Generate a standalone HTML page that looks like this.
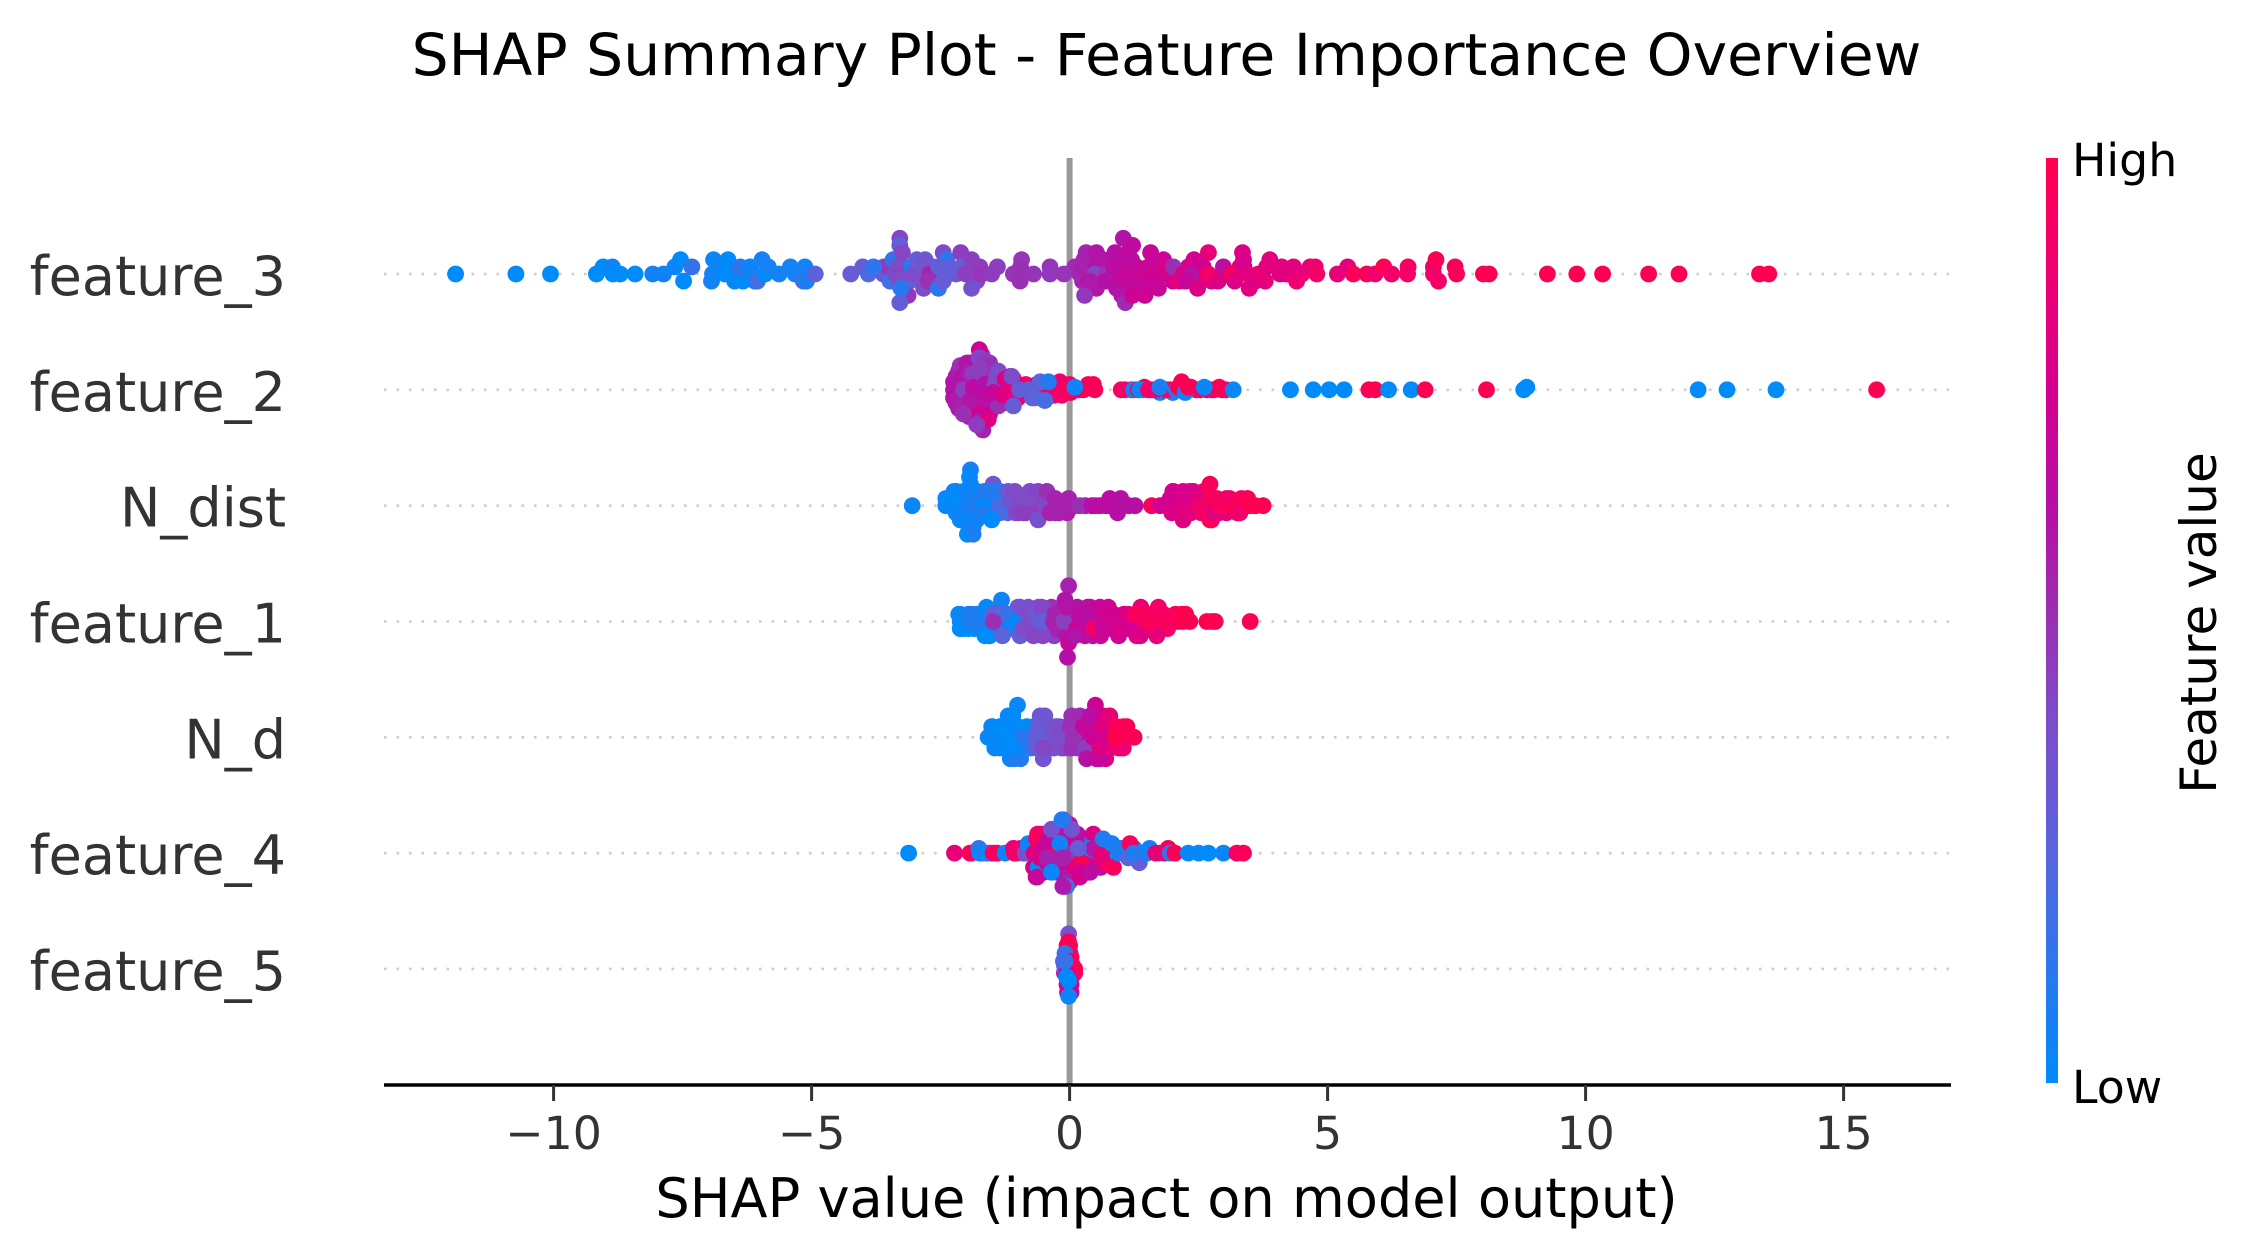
<!DOCTYPE html>
<html lang="en">
<head>
<meta charset="utf-8">
<title>SHAP Summary Plot - Feature Importance Overview</title>
<style>
html,body{margin:0;padding:0;background:#fff;}
svg{display:block;}
text{font-family:"DejaVu Sans","Liberation Sans",sans-serif;}
</style>
</head>
<body>
<svg id="chart" xmlns="http://www.w3.org/2000/svg" width="2255" height="1258" viewBox="0 0 2255 1258">
  <defs>
    <linearGradient id="cbar" x1="0" y1="1" x2="0" y2="0">
      <stop offset="0" stop-color="#008bfb"/>
      <stop offset="0.12" stop-color="#2a78ee"/>
      <stop offset="0.25" stop-color="#5a64dc"/>
      <stop offset="0.4" stop-color="#7f4bc8"/>
      <stop offset="0.5" stop-color="#9a30b4"/>
      <stop offset="0.62" stop-color="#b60fa6"/>
      <stop offset="0.75" stop-color="#d4008f"/>
      <stop offset="0.88" stop-color="#ee0070"/>
      <stop offset="1" stop-color="#ff0051"/>
    </linearGradient>
  </defs>
  <rect x="0" y="0" width="2255" height="1258" fill="#ffffff"/>
  <text x="1166.5" y="75" text-anchor="middle" font-size="58.35" fill="#000">SHAP Summary Plot - Feature Importance Overview</text>
  <g id="grid"></g>
  <line x1="1069.6" y1="158" x2="1069.6" y2="1085" stroke="#999999" stroke-width="6"/>
  <g id="points"></g>
  <line x1="384" y1="1085" x2="1951" y2="1085" stroke="#000" stroke-width="3.6"/>
  <g id="xaxis"></g>
  <g id="yaxis"></g>
  <text x="1166.5" y="1217" text-anchor="middle" font-size="54.17" fill="#000">SHAP value (impact on model output)</text>
  <rect x="2046" y="158" width="12" height="925" fill="url(#cbar)"/>
  <text x="2072" y="176" font-size="45.8" fill="#000">High</text>
  <text x="2072" y="1103" font-size="45.8" fill="#000">Low</text>
  <text transform="translate(2216,623) rotate(-90)" text-anchor="middle" font-size="50" fill="#000">Feature value</text>
</svg>
<script>
const categories = ['feature_3','feature_2','N_dist','feature_1','N_d','feature_4','feature_5'];
const xTickValues = [-10,-5,0,5,10,15];
const xTickLabels = ['\u221210','\u22125','0','5','10','15'];
const maxStack = [5,15,5,5,3,8,10];

const feature3Shap = [
-6.8,-6.6,-6.3,-6.1,-3.6,-3.45,-3.2,-3.1,-2.9,-2.65,
-2.6,-2.5,-2.2,-1.95,-1.8,0.1,0.25,0.4,0.6,0.65,
0.8,0.95,1.1,1.2,1.3,1.35,1.5,1.65,1.7,1.9,
2.0,2.3,2.55,2.75,3.0,3.3,4.2,4.5,
-11.9,-10.73,-10.06,-9.17,-9.04,-8.86,-8.85,-8.71,-8.42,-8.08,
-7.87,-7.65,-7.54,-7.48,-7.32,-6.94,-6.92,-6.9,-6.62,-6.68,
-6.49,-6.33,-6.38,-6.19,-6.13,-6.05,-5.96,-5.9,-5.84,-5.63,
-5.41,-5.32,-5.13,-5.16,-5.1,-4.93,
-4.24,-4.01,-3.9,-3.61,-3.53,-3.48,-3.42,-3.38,-3.29,-3.29,
-3.24,-3.32,-3.29,-3.3,-3.13,-3.29,-3.06,-3.0,-2.96,-2.8,
-2.83,-2.83,-2.71,-2.74,-2.54,-2.45,-2.38,-2.54,-2.35,-2.45,
-2.32,-2.11,-2.09,-1.9,-1.9,-2.01,-1.87,-1.74,-1.7,-1.51,
-1.4,-1.09,-0.93,-0.95,-0.96,-0.7,-0.38,-0.38,-0.11,0.2,
0.32,0.28,0.23,0.36,0.52,0.56,0.52,0.29,0.52,0.49,
0.72,0.88,0.91,1.04,1.22,1.14,1.07,0.98,0.91,1.01,
1.08,1.22,1.23,1.27,1.46,1.57,1.53,1.56,1.72,1.82,
1.78,1.85,2.01,2.13,2.2,2.41,2.37,2.48,2.59,2.69,
2.69,2.88,2.98,3.14,3.35,3.37,3.38,3.48,0.4,0.7,
1.0,0.85,1.15,1.15,1.4,1.6,2.25,3.2,3.45,3.6,
3.66,3.79,3.88,3.82,4.08,4.11,4.34,4.4,4.66,4.76,
4.79,5.19,5.39,5.5,5.76,5.92,6.09,6.24,6.56,6.55,
7.05,7.1,7.05,7.15,7.47,7.5,8.02,8.13,9.26,9.83,
10.33,11.22,11.81,13.37,13.55,-3.8,-3.27];
const feature3Stack = [
1,0,0,-1,1,-1,1,-1,0,1,
-1,0,0,1,-1,1,-1,0,-1,2,
1,-2,0,2,1,-1,0,-1,1,0,
-1,1,0,-1,0,1,0,0,
0,0,0,0,1,1,0,0,0,0,
0,1,2,-1,1,-1,0,2,2,0,
-1,-1,1,1,0,-1,2,0,1,0,
1,0,1,-1,-1,0,
0,1,0,0,1,-1,2,0,5,4,
3,1,0,-1,-3,-4,1,0,2,2,
1,-2,0,-1,-2,3,2,1,0,-1,
1,3,1,2,-2,0,1,1,0,0,
1,0,2,1,-1,0,1,0,0,0,
3,2,1,-1,3,2,-2,-3,1,0,
0,3,2,5,4,3,1,-1,-2,-3,
-4,-3,1,0,-3,3,1,-1,-2,2,
0,1,1,-1,0,2,0,-2,1,3,
0,-1,1,0,3,2,1,-2,-1,-1,
0,1,-1,2,0,0,-1,-1,0,-1,
0,-1,2,1,0,1,1,-1,1,1,
0,0,1,0,0,0,1,0,1,0,
1,2,0,-1,1,0,0,0,0,0,
0,0,0,0,0,1,-2];
const feature3Value = [
0,.02,0,.05,.32,.3,.32,.3,.3,.35,
.3,.33,.35,.4,.42,.52,.55,.55,.6,.6,
.62,.62,.65,.68,.7,.68,.7,.7,.72,.72,
.75,.78,.78,.8,.8,.82,.85,.85,
0,0,0,0,0,.05,0,0,0,.05,
.05,.03,0,0,.15,.05,.05,.03,0,0,
.03,0,.14,.03,.05,.18,.05,0,.06,.06,
.06,.05,.06,.2,.08,.27,
.3,.3,.22,.32,.47,.18,.15,.38,.42,.28,
.42,.38,.42,.4,.47,.3,.1,.4,.3,.33,
.35,.38,.55,.5,.12,.38,.12,.28,.33,.3,
.28,.45,.3,.45,.36,.45,.45,.46,.48,.45,
.45,.48,.48,.5,.5,.48,.48,.47,.48,.52,
.55,.55,.55,.6,.6,.6,.6,.47,.6,.42,
.5,.62,.62,.6,.65,.68,.7,.65,.62,.6,
.52,.72,.72,.7,.72,.7,.7,.68,.7,.7,
.72,.78,.5,.85,.78,.75,.6,.8,.72,.85,
.92,.8,.65,.95,.8,.78,.75,.82,.58,.62,
.7,.65,.68,.65,.7,.72,.7,.8,.82,.8,
.85,.85,.82,.82,.8,.82,.82,.88,.85,.88,
.92,.85,.82,.97,.98,.88,.99,.92,.95,.92,
.85,.98,.9,.92,.97,.97,1,1,1,1,
1,1,1,1,1,.13,.12];

const feature2Shap = [
-2.25,-2.25,-2.25,-2.2,-2.2,-2.15,-2.15,-2.1,-2.1,-2.05,
-2.05,-2.0,-2.0,-2.0,-1.95,-1.95,-1.9,-1.9,-1.9,-1.85,
-1.85,-1.85,-1.8,-1.8,-1.75,-1.75,-1.7,-1.7,-1.65,-1.65,
-1.6,-1.6,-1.55,-1.55,-1.5,-1.5,-1.45,-1.4,-1.35,-1.3,
-1.3,-1.25,-1.2,-1.15,-1.05,-1.0,-0.9,-0.85,-0.7,-0.72,
-0.6,-0.5,-0.5,-0.45,-0.3,-0.3,-0.1,0.0,0.02,0.18,
1.0,1.42,1.2,1.45,1.6,1.8,1.95,2.0,2.2,2.35,
2.45,2.65,2.8,1.75,2.95,
-2.22,-2.19,-2.12,-2.09,-1.99,-2.16,-2.09,-2.06,-1.94,-1.93,
-1.87,-1.75,-1.75,-1.64,-1.575,-1.74,-1.68,-1.7,-1.38,-1.74,
-1.575,-1.8,-1.93,-1.87,-1.74,-1.64,-1.54,-1.41,-1.45,-1.38,
-1.38,-1.48,-1.28,-1.19,-1.25,-1.12,-1.09,-1.15,-2.06,-1.06,
-0.77,-0.64,-0.38,-0.22,-0.19,-0.15,-0.06,0.27,0.36,0.46,
0.49,1.07,1.24,1.33,1.36,1.53,1.53,1.66,1.88,2.07,
2.11,2.17,2.24,2.30,2.53,2.75,2.90,3.03,3.17,-1.12,
-1.09,-0.97,-0.8,-0.67,-0.57,-0.48,-0.41,0.1,1.75,2.61,
4.28,4.72,5.03,5.32,5.92,5.8,5.92,6.18,6.62,6.89,
8.08,8.80,8.86,12.18,12.74,13.69,15.64];
const feature2Stack = [
0,3,-3,5,-5,7,-7,2,-2,8,
-8,4,-4,0,10,-10,7,2,-6,9,
-2,-9,11,-11,5,-5,13,-13,8,0,
-7,4,10,-9,-3,6,-6,3,0,5,
-5,0,-4,3,2,-3,0,2,0,-3,
0,2,-2,1,0,-2,0,2,-1,0,
0,0,0,1,0,0,0,-1,2,1,
0,0,0,-1,0,
2,-2,9,5,10,-3,-6,0,-8,6,
6,15,12,11,9,8,-15,-9,-4,-12,
-11,-13,-4,1,0,2,-2,5,2,7,
-6,-1,-2,0,4,-3,4,5,-9,0,
0,2,0,1,3,-2,0,0,2,2,
0,0,0,0,0,0,0,0,0,0,
1,3,-1,1,0,0,1,0,0,5,
-6,0,0,-3,3,-4,3,1,1,1,
0,0,0,0,0,0,0,0,0,0,
0,0,1,0,0,0,0];
const feature2Value = [
.6,.62,.6,.58,.6,.55,.58,.62,.62,.6,
.55,.62,.6,.62,.62,.55,.6,.65,.62,.58,
.65,.55,.55,.6,.62,.65,.58,.55,.5,.68,
.6,.65,.5,.7,.68,.5,.65,.6,.75,.45,
.55,.8,.75,.8,.85,.88,.85,.9,.9,.3,
.88,.9,.88,.25,.88,.88,.9,.92,.9,.98,
.95,.08,.9,.92,.9,.95,.9,.1,.97,.98,
.95,.95,.95,.05,.98,
.6,.62,.5,.6,.6,.58,.55,.45,.72,.55,
.45,.72,.42,.45,.5,.45,.55,.72,.42,.55,
.8,.45,.6,.65,.65,.62,.65,.38,.38,.4,
.5,.7,.8,.82,.8,.8,.85,.8,.5,.85,
.9,.9,.88,.9,.9,.92,.95,.98,.95,.98,
.97,.92,.05,.98,.03,.05,.92,.9,.95,.05,
.98,.98,.05,.98,.95,.95,.98,.98,.03,.38,
.3,.3,.28,.25,.25,.2,.1,.05,.08,.03,
0,0,0,0,0,.98,1,0,0,1,
1,0,0,0,0,0,1];

const nDistShap = [
-2.3,-2.2,-2.15,-2.15,-2.1,-2.05,-2.05,-2.0,-2.0,-1.95,
-1.9,-1.9,-1.85,-1.85,-1.8,-1.8,-1.75,-1.7,-1.7,-1.65,
-1.6,-1.55,-1.55,-1.5,-1.45,-1.4,-1.4,-1.3,-1.25,-1.2,
-1.15,-1.1,-1.05,-1.0,-0.95,-0.85,-0.85,-0.75,-0.7,-0.7,
-0.6,-0.55,-0.5,-0.45,-0.35,-0.3,-0.2,-0.2,-0.1,-0.05,
0.1,0.3,0.5,0.7,0.85,1.05,1.15,
1.95,2.0,2.05,2.1,2.15,2.2,2.25,2.3,2.35,
2.4,2.45,2.5,2.55,2.6,2.6,2.65,2.7,2.75,2.85,
2.9,3.0,3.1,3.2,3.25,3.4,3.45,3.6,
-3.05,-2.4,-2.4,-2.24,-2.24,-2.2,-2.12,-1.98,-1.92,-1.94,
-1.92,-2.0,-1.98,-1.98,-1.87,-1.87,-1.83,-1.67,-1.67,-1.48,
-1.61,-1.45,-1.35,-1.35,-1.19,-1.06,-0.96,-0.99,-0.9,-0.77,
-0.8,-0.61,-0.61,-0.48,-0.44,-0.38,-0.28,-0.28,-0.15,-0.02,
0.01,0.2,0.43,0.59,0.78,0.78,0.99,0.93,0.98,1.27,
1.59,1.75,2.01,1.95,1.98,2.2,2.33,2.43,2.27,2.53,
2.72,2.72,2.69,2.79,2.79,3.04,3.04,2.92,3.17,3.33,
3.30,3.5,3.75,-1.51];
const nDistStack = [
0,2,1,-1,0,-2,2,1,-1,-3,
2,0,1,-1,-2,2,1,0,-1,2,
1,0,-1,2,1,0,-1,1,0,-1,
1,0,-1,1,0,1,-1,0,-1,1,
0,1,-1,1,0,1,-1,0,0,-1,
0,0,0,0,0,0,0,
1,2,0,-1,1,-2,0,1,-1,
2,0,1,-1,2,0,1,0,-2,1,
-1,0,1,0,-1,0,1,0,
0,1,0,2,1,-1,-2,2,5,4,
3,0,-2,-4,-3,-4,0,0,-1,3,
2,2,2,-1,2,2,0,-1,-1,2,
1,2,-2,0,2,-1,1,-1,0,1,
0,0,0,0,1,0,1,-1,0,0,
0,0,2,0,-1,2,2,1,-1,0,
3,-2,-1,1,-1,1,-1,0,0,1,
-1,0,0,-2];
const nDistValue = [
.02,.03,.02,.02,.03,.03,.05,.05,.03,.02,
.04,.05,.05,.05,.02,.07,.05,.08,.05,.1,
.1,.1,.1,.1,.12,.2,.18,.2,.25,.25,
.35,.35,.4,.38,.4,.42,.45,.45,.45,.4,
.45,.45,.5,.5,.55,.55,.55,.58,.58,.58,
.58,.6,.65,.62,.62,.65,.62,
.75,.72,.8,.75,.8,.8,.82,.78,.82,
.85,.88,.9,.88,.9,.92,.95,.97,.9,.95,
.92,.97,.95,.98,.95,1,.97,1,
.03,.02,.02,.03,0,.03,.03,.05,.07,0,
.03,.05,.03,0,.05,.07,.1,0,.08,.33,
.1,.1,.1,.2,.33,.4,.4,.42,.45,.4,
.4,.42,.36,.42,.5,.55,.55,.55,.55,.55,
.55,.5,.62,.65,.62,.65,.62,.62,.62,.62,
.97,.75,.75,.75,.78,.78,.75,.8,.82,.9,
.95,.98,.95,.95,.82,.9,.85,.95,.98,.97,
.9,1,1,0];

const feature1Shap = [
-2.15,-2.05,-2.05,-1.9,-1.85,-1.8,-1.7,-1.7,-1.6,-1.55,
-1.55,-1.45,-1.4,-1.35,-1.25,-1.15,-1.1,-1.05,-1.0,-0.95,
-0.95,-0.85,-0.8,-0.75,-0.7,-0.65,-0.6,-0.55,-0.45,-0.45,
-0.35,-0.35,-0.3,-0.25,-0.15,-0.15,-0.1,-0.05,0.0,0.05,
0.1,0.15,0.2,0.25,0.3,0.35,0.45,0.5,0.55,0.6,
0.7,0.75,0.8,0.85,0.95,1.05,1.1,1.2,1.25,1.3,
1.45,1.55,1.6,1.75,1.9,2.05,2.1,2.25,2.75,
-2.12,-2.12,-2.12,-1.96,-1.96,-1.94,-1.77,-1.74,-1.61,-1.64,
-1.32,-1.48,-1.32,-1.48,-1.19,-1.30,-1.03,-0.96,-0.96,-0.9,
-0.8,-0.7,-0.64,-0.52,-0.54,-0.52,-0.28,-0.31,-0.11,-0.02,
-0.09,-0.06,-0.02,-0.04,0.14,0.1,0.2,0.4,0.36,0.46,
0.59,0.65,0.78,0.95,0.98,1.14,1.14,1.38,1.27,1.37,
1.49,1.56,1.69,1.72,1.69,1.82,1.95,2.17,2.2,2.33,
2.66,2.82,3.5];
const feature1Stack = [
1,0,-1,1,-1,1,0,-1,1,0,
-2,-1,0,2,0,-1,0,1,2,1,
0,-1,2,0,1,-1,2,0,-1,1,
2,0,-2,-1,1,-1,2,-2,1,-1,
0,2,-1,1,-2,2,-2,0,1,-2,
0,2,-1,1,-2,1,0,-1,0,-2,
0,-1,1,0,-1,1,0,1,0,
1,0,-1,-1,1,0,0,1,2,-2,
3,1,1,0,1,-2,0,2,-2,-1,
1,-2,1,-2,2,0,1,0,0,5,
3,2,-3,-5,-1,-2,1,2,0,-1,
2,-1,1,0,-1,-1,1,2,1,-2,
1,0,-1,2,-2,1,0,1,0,0,
0,0,0];
const feature1Value = [
.02,.03,.02,.05,.05,.07,.07,.05,.05,.08,
0,.1,.2,.02,.1,.05,.05,.15,.35,.3,
.3,.25,.35,.35,.38,.35,.38,.35,.45,.45,
.5,.5,.45,.55,.55,.55,.58,.6,.58,.6,
.62,.6,.62,.62,.65,.65,.62,.65,.68,.7,
.68,.72,.72,.72,.72,.75,.75,.78,.85,.82,
.85,.95,.92,.92,.92,.97,.98,1,1,
.02,.03,0,0,.07,.08,.1,.08,.02,0,
.05,.3,.25,.5,.15,.25,.02,.35,.3,.4,
.4,.42,.3,.42,.42,.28,.55,.55,.45,.55,
.6,.6,.68,.62,.72,.6,.65,.65,.62,.9,
.7,.7,.75,.72,.78,.75,.8,.85,.97,.8,
.95,.97,.97,.92,.85,.95,.95,1,1,1,
1,1,1];

const nDShap = [
-1.5,-1.45,-1.45,-1.4,-1.35,-1.3,-1.25,-1.15,-1.15,-1.05,
-1.0,-1.0,-0.95,-0.9,-0.8,-0.75,-0.7,-0.65,-0.6,-0.55,
-0.45,-0.4,-0.4,-0.35,-0.3,-0.3,-0.2,-0.15,-0.1,-0.05,
-0.05,0.0,0.05,0.1,0.15,0.2,0.25,0.35,0.35,0.4,
0.45,0.5,0.55,0.6,0.7,0.7,0.75,0.8,0.85,0.95,1.0,
-1.58,-1.51,-1.35,-1.06,-1.06,-1.01,-1.19,-1.10,-1.2,-1.22,
-0.83,-0.86,-0.57,-0.61,-0.64,-0.51,-0.64,-0.51,-0.48,-0.25,
-0.19,-0.15,0.04,0.01,0.07,0.04,0.3,0.33,0.2,0.27,
0.52,0.59,0.5,0.4,0.65,0.78,0.46,0.59,0.65,0.72,
0.95,1.04,0.91,1.04,1.11,0.88,1.25];
const nDStack = [
1,0,-1,0,-1,0,1,1,-2,0,
1,-1,-2,0,0,-1,1,1,-1,0,
1,0,-1,1,-1,0,1,0,-1,1,
0,-1,1,0,-1,1,0,-1,1,0,
-1,1,0,-1,1,-2,0,-1,1,0,-1,
0,1,1,-2,-1,3,2,2,0,-1,
1,0,2,1,0,-2,-1,-1,2,1,
0,-1,2,1,0,-1,-1,-2,2,1,
-2,-2,3,2,2,2,0,-1,1,0,
-1,-1,1,1,1,0,0];
const nDValue = [
.02,.02,.02,.02,.02,.02,.02,0,.05,.05,
.03,.05,.1,.1,.15,.1,.15,.2,.3,.3,
.33,.33,.35,.35,.38,.35,.38,.4,.42,.42,
.42,.45,.45,.48,.48,.5,.52,.55,.58,.62,
.68,.68,.7,.72,.78,.78,.8,.85,.9,.95,.95,
.02,.02,0,.1,.02,.03,.02,0,0,0,
0,.12,.33,.3,.3,.35,.3,.42,.33,.38,
.4,.4,.5,.5,.5,.5,.45,.62,.52,.68,
.65,.68,.72,.62,.75,.85,.72,.8,.8,.75,
.9,.88,.98,.95,.98,1,.98];

const feature4Shap = [
-0.7,-0.65,-0.6,-0.55,-0.5,-0.5,-0.45,-0.4,-0.4,-0.35,
-0.3,-0.3,-0.25,-0.2,-0.15,-0.15,-0.1,-0.1,-0.05,-0.05,
0.0,0.0,0.05,0.1,0.1,0.15,0.2,0.25,0.3,0.3,
0.35,0.4,0.45,0.5,0.55,0.6,0.7,0.75,0.8,0.9,
1.0,1.05,1.15,1.25,1.3,1.35,1.5,1.55,1.75,1.85,
-1.9,-1.6,-1.55,-1.4,-1.0,-0.9,-0.95,-0.7,-0.65,-0.62,
-3.12,-2.23,-1.93,-1.76,-1.74,-1.67,-1.48,-1.25,-1.09,-1.07,
-0.86,-0.8,-0.69,-0.57,-0.64,-0.61,-0.63,-0.51,-0.44,-0.41,
-0.25,-0.57,-0.44,-0.19,-0.06,-0.13,-0.15,-0.12,0.04,0.07,
0.14,0.23,0.2,0.46,0.4,0.4,0.46,0.62,0.65,0.85,
0.65,0.82,0.95,1.17,1.14,1.24,1.67,1.91,1.95,2.04,
2.3,2.5,2.69,2.98,3.24,3.37,-0.35,-0.35,-0.15,0.17,-0.19,-0.13];
const feature4Stack = [
1,-2,3,-1,-4,4,-1,2,-3,0,
3,-2,-4,5,-1,2,-3,-5,4,0,
-6,6,2,-3,0,4,-5,1,-2,3,
-4,-1,3,-2,0,-3,-2,1,2,0,
1,0,0,1,0,-2,0,1,0,0,
0,0,0,0,0,0,1,-3,-5,4,
0,0,0,1,0,0,0,0,1,0,
0,2,0,4,3,-3,-5,1,-2,3,
0,-1,-1,-1,-7,-7,6,7,5,0,
-3,-2,-4,4,1,-4,1,-1,1,-3,
3,2,0,2,-1,0,0,1,0,0,
0,0,0,0,0,0,5,-4,7,1,2,-1];
const feature4Value = [
.85,.8,.95,.75,.7,.98,.6,.7,.85,.65,
.7,.35,.6,.7,.7,.65,.7,.6,.65,.6,
.55,.6,.7,.75,.6,.65,.75,.65,.85,.62,
.75,.8,.1,.65,.5,.65,.95,.4,.1,.1,
.1,.05,.1,.1,.05,.3,.08,.05,.15,.85,
.85,.97,.1,.97,.4,.3,.9,.8,.75,.97,
0,.85,.97,.15,.02,.05,.95,.03,.85,.92,
.35,.05,.8,.9,.95,.02,.7,.7,.7,.7,
.98,.8,.55,.55,.2,.58,.65,.35,.35,.5,
.8,.98,.75,.8,0,.65,.6,.85,.85,.95,
.1,.08,.08,.95,.25,.1,.85,.95,.15,.98,
.02,.02,0,.03,.92,.97,.35,.03,.1,.3,.05,.55];

const feature5Shap = [
-0.05,0.0,-0.03,0.0,0.03,-0.1,-0.05,0.05,0.1,-0.1,
0.05,-0.05,0.03,-0.04,0.03,
-0.02,-0.02,-0.02,0.01,-0.09,-0.12,-0.02,0.1,-0.09,0.01,
0.04,-0.02,-0.02,0.01,-0.06,-0.09,-0.02,-0.06,-0.02,-0.02];
const feature5Stack = [
6,6,3,3,3,1,1,1,-1,-1,
-1,-4,-4,-6,-6,
9,7,5,4,4,2,1,0,0,2,
-2,-6,-5,0,-1,2,-7,-2,-3,-3];
const feature5Value = [
.98,.98,.5,.9,.98,.4,.7,.95,.98,.6,
.95,.7,.75,.7,.7,
.35,.98,.98,.98,.15,.3,.95,.98,.2,.98,
.9,.7,.8,.98,.7,.15,.03,0,0,0];

const rowShap = [feature3Shap,feature2Shap,nDistShap,feature1Shap,nDShap,feature4Shap,feature5Shap];
const rowStack = [feature3Stack,feature2Stack,nDistStack,feature1Stack,nDStack,feature4Stack,feature5Stack];
const rowValue = [feature3Value,feature2Value,nDistValue,feature1Value,nDValue,feature4Value,feature5Value];

const SVGNS = 'http://www.w3.org/2000/svg';
const xZero = 1069.6, xUnit = 51.6, rowTop = 274, rowStep = 115.83;
function xScale(v){ return xZero + v * xUnit; }
function yRow(i){ return rowTop + i * rowStep; }
function laneStep(i){ return 0.37 * rowStep / (maxStack[i] + 1); }

const ramp = [[0,0,139,251],[.12,42,120,238],[.25,90,100,220],[.4,127,75,200],[.5,154,48,180],[.62,182,15,166],[.75,212,0,143],[.88,238,0,112],[1,255,0,81]];
function colorFor(t){
  t = Math.max(0, Math.min(1, t));
  for (let k = 1; k < ramp.length; k++) {
    if (t <= ramp[k][0]) {
      const a = ramp[k-1], b = ramp[k], f = (t - a[0]) / (b[0] - a[0]);
      return 'rgb(' + [1,2,3].map(function(c){ return Math.round(a[c] + (b[c] - a[c]) * f); }).join(',') + ')';
    }
  }
  return 'rgb(255,0,81)';
}

const gridG = document.getElementById('grid');
const pointsG = document.getElementById('points');
const xG = document.getElementById('xaxis');
const yG = document.getElementById('yaxis');

categories.forEach(function(name, i){
  const y = yRow(i);
  const gl = document.createElementNS(SVGNS, 'line');
  
  
  gl.setAttribute('x1', 384);
  gl.setAttribute('x2', 1951);
  gl.setAttribute('y1', y);
  gl.setAttribute('y2', y);
  gl.setAttribute('stroke', '#cccccc');
  gl.setAttribute('stroke-width', '2.6');
  gl.setAttribute('stroke-dasharray', '2.6 9.9');
  gridG.appendChild(gl);

  const lab = document.createElementNS(SVGNS, 'text');
  
  
  lab.setAttribute('x', 286);
  lab.setAttribute('y', y + 21);
  lab.setAttribute('text-anchor', 'end');
  lab.setAttribute('font-size', '54');
  lab.setAttribute('fill', '#333333');
  lab.textContent = name;
  yG.appendChild(lab);

  const xs = rowShap[i], ls = rowStack[i], vs = rowValue[i];
  const n = Math.min(xs.length, ls.length, vs.length);
  for (let k = 0; k < n; k++) {
    const c = document.createElementNS(SVGNS, 'circle');
    
    
    c.setAttribute('cx', xScale(xs[k]).toFixed(1));
    c.setAttribute('cy', (y - ls[k] * laneStep(i)).toFixed(1));
    c.setAttribute('r', '8.4');
    c.setAttribute('fill', colorFor(vs[k]));
    pointsG.appendChild(c);
  }
});

xTickValues.forEach(function(v, i){
  const t = document.createElementNS(SVGNS, 'line');
  
  
  t.setAttribute('x1', xScale(v));
  t.setAttribute('x2', xScale(v));
  t.setAttribute('y1', 1085);
  t.setAttribute('y2', 1101);
  t.setAttribute('stroke', '#333333');
  t.setAttribute('stroke-width', '3');
  xG.appendChild(t);

  const lab = document.createElementNS(SVGNS, 'text');
  
  
  lab.setAttribute('x', xScale(v));
  lab.setAttribute('y', 1149);
  lab.setAttribute('text-anchor', 'middle');
  lab.setAttribute('font-size', '45.8');
  lab.setAttribute('fill', '#333333');
  lab.textContent = xTickLabels[i];
  xG.appendChild(lab);
});
</script>
</body>
</html>
